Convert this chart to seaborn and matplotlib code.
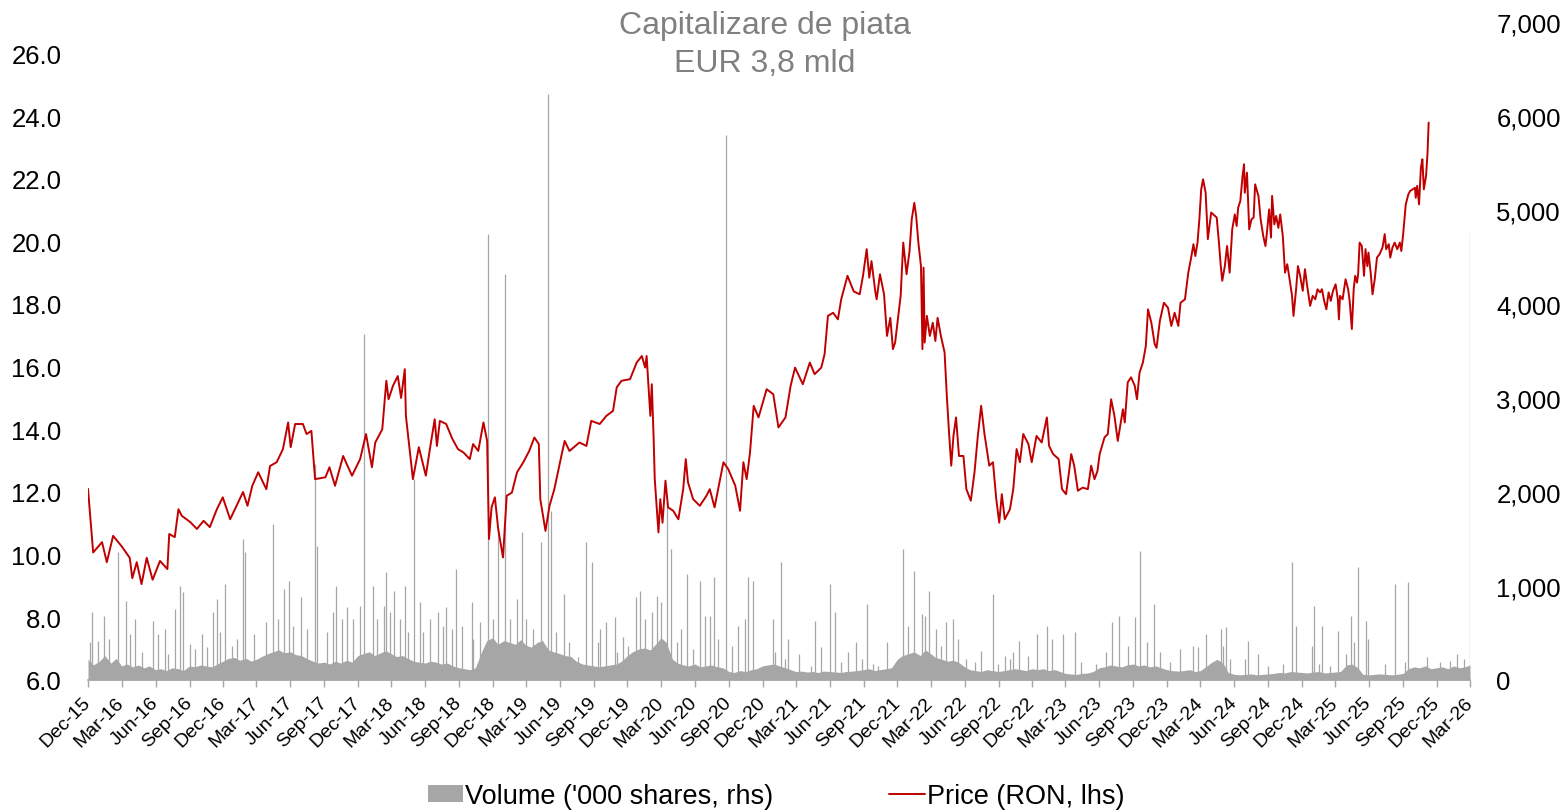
import numpy as np
import pandas as pd
import matplotlib
matplotlib.use("Agg")
import matplotlib.pyplot as plt
import matplotlib.font_manager as fm
from matplotlib.patches import Patch
from matplotlib.lines import Line2D
from matplotlib.ticker import FuncFormatter
import seaborn as sns

# price (RON, left axis)
price_dates = [
    "2015-12-01", "2015-12-10", "2015-12-15", "2016-01-08", "2016-01-21", "2016-02-07", "2016-03-01", "2016-03-23",
    "2016-03-30", "2016-04-11", "2016-04-24", "2016-05-08", "2016-05-24", "2016-06-13", "2016-07-03", "2016-07-08",
    "2016-07-23", "2016-08-02", "2016-08-11", "2016-09-03", "2016-09-21", "2016-10-09", "2016-10-26", "2016-11-14",
    "2016-11-30", "2016-12-20",
    "2017-01-08", "2017-01-24", "2017-02-05", "2017-02-18", "2017-03-06", "2017-03-28", "2017-04-07", "2017-04-25",
    "2017-05-12", "2017-05-26", "2017-06-02", "2017-06-14", "2017-07-05", "2017-07-15", "2017-07-28", "2017-08-07",
    "2017-09-04", "2017-09-15", "2017-09-30", "2017-10-22", "2017-11-15", "2017-12-07", "2017-12-23",
    "2018-01-08", "2018-01-17", "2018-02-05", "2018-02-16", "2018-02-22", "2018-03-06", "2018-03-19", "2018-03-28",
    "2018-04-07", "2018-04-10", "2018-04-20", "2018-04-29", "2018-05-15", "2018-06-03", "2018-06-14", "2018-06-27",
    "2018-07-03", "2018-07-11", "2018-07-28", "2018-08-14", "2018-08-29", "2018-09-13", "2018-09-30", "2018-10-09",
    "2018-10-23", "2018-11-06", "2018-11-16", "2018-11-21", "2018-11-28", "2018-12-07", "2018-12-16", "2018-12-29",
    "2019-01-08", "2019-01-22", "2019-02-05", "2019-02-22", "2019-03-10", "2019-03-24", "2019-04-05", "2019-04-09",
    "2019-04-23", "2019-05-04", "2019-05-17", "2019-06-05", "2019-06-14", "2019-06-27", "2019-07-24", "2019-08-12",
    "2019-08-25", "2019-09-17", "2019-10-05", "2019-10-23", "2019-11-02", "2019-11-15", "2019-12-08", "2019-12-26",
    "2020-01-09", "2020-01-18", "2020-01-22", "2020-02-01", "2020-02-05", "2020-02-10", "2020-02-13", "2020-02-23",
    "2020-02-28", "2020-03-05", "2020-03-13", "2020-03-20", "2020-04-03", "2020-04-17", "2020-04-30", "2020-05-07",
    "2020-05-13", "2020-05-27", "2020-06-14", "2020-07-02", "2020-07-11", "2020-07-24", "2020-08-17", "2020-08-30",
    "2020-09-18", "2020-10-01", "2020-10-10", "2020-10-19", "2020-10-28", "2020-11-07", "2020-11-20", "2020-12-12",
    "2020-12-30",
    "2021-01-13", "2021-02-01", "2021-02-15", "2021-02-27", "2021-03-20", "2021-04-08", "2021-04-21", "2021-05-09",
    "2021-05-18", "2021-05-27", "2021-06-10", "2021-06-23", "2021-07-02", "2021-07-19", "2021-08-05", "2021-08-21",
    "2021-08-30", "2021-09-09", "2021-09-16", "2021-09-22", "2021-10-02", "2021-10-06", "2021-10-15", "2021-10-26",
    "2021-11-03", "2021-11-12", "2021-11-19", "2021-11-25", "2021-12-04", "2021-12-10", "2021-12-17", "2021-12-26",
    "2022-01-03", "2022-01-09", "2022-01-16", "2022-01-21", "2022-01-27", "2022-02-03", "2022-02-07", "2022-02-10",
    "2022-02-13", "2022-02-19", "2022-02-27", "2022-03-07", "2022-03-14", "2022-03-20", "2022-03-29", "2022-04-08",
    "2022-04-14", "2022-04-20", "2022-04-26", "2022-05-02", "2022-05-09", "2022-05-17", "2022-05-29", "2022-06-06",
    "2022-06-18", "2022-06-28", "2022-07-07", "2022-07-16", "2022-07-25", "2022-08-07", "2022-08-17", "2022-08-26",
    "2022-09-03", "2022-09-10", "2022-09-18", "2022-10-02", "2022-10-11", "2022-10-20", "2022-10-29", "2022-11-07",
    "2022-11-21", "2022-11-30", "2022-12-13", "2022-12-27",
    "2023-01-10", "2023-01-16", "2023-01-27", "2023-02-11", "2023-02-20", "2023-03-03", "2023-03-12", "2023-03-17",
    "2023-03-25", "2023-04-04", "2023-04-17", "2023-05-01", "2023-05-10", "2023-05-19", "2023-05-27", "2023-06-02",
    "2023-06-15", "2023-06-24", "2023-07-03", "2023-07-12", "2023-07-21", "2023-08-04", "2023-08-09", "2023-08-17",
    "2023-08-26", "2023-09-05", "2023-09-11", "2023-09-18", "2023-09-27", "2023-10-05", "2023-10-11", "2023-10-20",
    "2023-10-29", "2023-11-03", "2023-11-12", "2023-11-23", "2023-12-04", "2023-12-13", "2023-12-22",
    "2024-01-01", "2024-01-07", "2024-01-19", "2024-01-28", "2024-02-04", "2024-02-11", "2024-02-16", "2024-02-22",
    "2024-02-27", "2024-03-03", "2024-03-08", "2024-03-15", "2024-03-21", "2024-03-30", "2024-04-14", "2024-04-20",
    "2024-04-25", "2024-04-29", "2024-05-06", "2024-05-12", "2024-05-19", "2024-05-26", "2024-06-02", "2024-06-07",
    "2024-06-11", "2024-06-17", "2024-06-23", "2024-06-27", "2024-06-29", "2024-07-05", "2024-07-11", "2024-07-17",
    "2024-07-23", "2024-07-27", "2024-08-05", "2024-08-11", "2024-08-18", "2024-08-24", "2024-08-28", "2024-09-03",
    "2024-09-08", "2024-09-11", "2024-09-17", "2024-09-22", "2024-09-28", "2024-10-03", "2024-10-10", "2024-10-16",
    "2024-10-22", "2024-10-27", "2024-11-04", "2024-11-08", "2024-11-15", "2024-11-20", "2024-11-26", "2024-12-03",
    "2024-12-09", "2024-12-15", "2024-12-23", "2024-12-30",
    "2025-01-06", "2025-01-12", "2025-01-19", "2025-01-24", "2025-01-30", "2025-02-05", "2025-02-11", "2025-02-17",
    "2025-02-23", "2025-03-02", "2025-03-08", "2025-03-11", "2025-03-14", "2025-03-21", "2025-03-29", "2025-04-05",
    "2025-04-09", "2025-04-15", "2025-04-20", "2025-04-24", "2025-04-29", "2025-05-02", "2025-05-06", "2025-05-12",
    "2025-05-18", "2025-05-22", "2025-05-27", "2025-05-30", "2025-06-05", "2025-06-10", "2025-06-16", "2025-06-22",
    "2025-06-29", "2025-07-07", "2025-07-13", "2025-07-17", "2025-07-24", "2025-07-28", "2025-08-03", "2025-08-09",
    "2025-08-16", "2025-08-23", "2025-08-27", "2025-09-01", "2025-09-08", "2025-09-15", "2025-09-20", "2025-09-27",
    "2025-10-03", "2025-10-05", "2025-10-09", "2025-10-14", "2025-10-19", "2025-10-23", "2025-10-27", "2025-11-02",
    "2025-11-06", "2025-11-09",
]
price_vals = [
    12.1, 10.8, 10.07, 10.4, 9.76, 10.6, 10.27, 9.9, 9.25, 9.76, 9.06, 9.9, 9.2, 9.8, 9.54, 10.66,
    10.56, 11.45, 11.24, 11.04, 10.82, 11.08, 10.88, 11.45, 11.83, 11.13,
    11.6, 12.0, 11.56, 12.2, 12.63, 12.09, 12.83, 12.95, 13.37, 14.22, 13.43, 14.17, 14.17, 13.85, 13.95, 12.41,
    12.47, 12.79, 12.2, 13.15, 12.52, 13.05, 13.85,
    12.79, 13.58, 14.0, 15.55, 14.96, 15.39, 15.7, 15.0, 15.92, 14.43, 13.37, 12.41, 13.43, 12.52, 13.37, 14.32,
    13.47, 14.27, 14.17, 13.69, 13.37, 13.26, 13.05, 13.53, 13.31, 14.22, 13.63, 10.5, 11.51, 11.83, 10.82, 9.91,
    11.88, 11.98, 12.63, 12.95, 13.31, 13.74, 13.53, 11.77, 10.76, 11.56, 12.09, 13.15, 13.63, 13.31, 13.58, 13.47,
    14.27, 14.17, 14.43, 14.59, 15.34, 15.55, 15.6, 16.13,
    16.34, 15.97, 16.34, 14.43, 15.44, 13.69, 12.41, 10.71, 11.77, 11.02, 12.36, 11.51, 11.4, 11.13, 12.09, 13.05,
    12.31, 11.77, 11.56, 11.88, 12.09, 11.51, 12.95, 12.73, 12.2, 11.4, 12.95, 12.41, 13.26, 14.75, 14.38, 15.28,
    15.12,
    14.06, 14.38, 15.39, 15.97, 15.44, 16.13, 15.76, 15.97, 16.4, 17.62, 17.72, 17.51, 18.15, 18.9, 18.4, 18.31,
    18.9, 19.75, 18.84, 19.37, 18.42, 18.15, 18.95, 18.31, 16.98, 17.56, 16.56, 16.77, 17.67, 18.26, 19.96, 18.95,
    19.69, 20.7, 21.23, 20.81, 19.96, 19.21, 16.56, 19.16, 16.77, 17.62, 16.98, 17.4, 16.82, 17.56, 16.98, 16.45,
    15.07, 13.9, 12.84, 13.79, 14.38, 13.15, 13.15, 12.09, 11.72, 12.63, 13.79, 14.75, 13.85, 12.84, 12.95, 11.77,
    11.02, 11.93, 11.13, 11.45, 12.09, 13.37, 12.95, 13.85, 13.53, 12.95, 13.79, 13.58,
    14.38, 13.47, 13.21, 13.05, 12.09, 11.93, 12.73, 13.21, 12.84, 12.04, 12.14, 12.09, 12.84, 12.41, 12.67, 13.21,
    13.74, 13.85, 14.96, 14.43, 13.63, 14.64, 14.22, 15.5, 15.66, 15.39, 14.96, 15.81, 16.13, 16.66, 17.83, 17.4,
    16.72, 16.6, 17.46, 18.04, 17.88, 17.3, 17.72,
    17.3, 18.04, 18.15, 19.0, 19.43, 19.91, 19.53, 19.96, 20.7, 21.66, 21.98, 21.55, 20.07, 20.92, 20.76, 19.96,
    19.21, 18.74, 19.21, 19.85, 19.0, 20.38, 20.86, 20.49, 21.07, 21.29, 22.09, 22.46, 21.55, 22.19, 20.38, 20.7,
    20.76, 21.82, 21.45, 20.7, 20.17, 19.85, 20.28, 21.02, 20.12, 21.45, 20.54, 20.81, 20.43, 20.86, 20.17, 19.0,
    19.27, 18.9, 18.26, 17.62, 18.47, 19.21, 18.9, 18.42, 19.11, 18.58, 17.94, 18.26,
    18.15, 18.47, 18.37, 18.47, 18.1, 17.83, 18.37, 18.1, 18.42, 18.63, 18.15, 17.51, 18.26, 18.15, 18.79, 18.47,
    18.1, 17.2, 18.47, 18.9, 18.68, 18.95, 19.96, 19.85, 18.9, 19.75, 19.21, 19.64, 19.0, 18.31, 18.79, 19.48,
    19.59, 19.8, 20.23, 19.75, 19.91, 19.48, 19.8, 19.96, 19.75, 19.96, 19.69, 20.23, 21.18, 21.5, 21.61, 21.66,
    21.71, 21.39, 21.77, 21.18, 22.35, 22.62, 21.66, 22.09, 22.83, 23.79,
]

# volume ('000 shares, right axis): base level on the 1st and 15th of each month, Dec-15 .. Mar-26
vol_base = [
    220, 160,
    200, 260, 180, 230, 150, 170, 140, 160, 130, 150, 110, 120, 100, 130, 120, 100, 150, 140, 160, 150, 140, 170, 200, 230,
    240, 210, 230, 200, 220, 250, 280, 300, 320, 290, 300, 270, 260, 230, 200, 180, 190, 170, 200, 180, 210, 190, 260, 280,
    300, 260, 290, 310, 280, 250, 260, 230, 200, 190, 180, 200, 190, 170, 180, 150, 130, 120, 110, 130, 300, 420, 450, 380,
    420, 400, 380, 430, 370, 350, 400, 420, 320, 300, 280, 260, 250, 200, 170, 160, 150, 140, 150, 160, 170, 200, 260, 300,
    330, 340, 320, 380, 450, 400, 220, 180, 160, 150, 170, 140, 150, 160, 140, 130, 90, 80, 100, 90, 110, 120, 150, 160,
    170, 150, 130, 110, 90, 95, 85, 90, 80, 95, 90, 85, 80, 90, 95, 100, 110, 120, 100, 110, 120, 130, 220, 260,
    280, 300, 260, 320, 280, 240, 220, 200, 210, 190, 140, 110, 100, 90, 110, 100, 90, 100, 110, 120, 110, 100, 120, 110,
    120, 100, 110, 90, 70, 65, 60, 70, 75, 90, 130, 140, 160, 150, 140, 160, 170, 150, 160, 140, 150, 130, 110, 100,
    95, 100, 110, 90, 100, 140, 190, 220, 180, 80, 60, 55, 60, 65, 55, 60, 65, 70, 80, 75, 90, 85, 80, 75,
    85, 90, 75, 80, 85, 90, 160, 170, 130, 60, 55, 60, 65, 60, 55, 60, 70, 120, 140, 130, 150, 120, 130, 140,
    120, 150, 130, 140,
    160,
]

# single-day volume spikes (tall ones)
spike_dates = [
    "2015-12-13", "2016-01-12", "2016-02-19", "2016-03-14", "2016-04-06", "2016-05-25", "2016-06-08", "2016-07-23",
    "2016-08-06", "2016-08-15", "2016-10-04", "2016-11-03", "2016-11-14", "2016-12-06", "2017-01-24", "2017-01-30",
    "2017-04-15", "2017-05-14", "2017-05-28", "2017-07-01", "2017-08-07", "2017-08-11", "2017-10-03", "2017-11-02",
    "2017-12-07", "2017-12-18", "2018-01-11", "2018-02-16", "2018-03-10", "2018-04-07", "2018-05-02", "2018-05-17",
    "2018-07-06", "2018-07-28", "2018-08-25", "2018-10-05", "2018-11-19", "2018-12-16", "2019-01-04", "2019-02-05",
    "2019-02-18", "2019-04-12", "2019-04-30", "2019-05-08", "2019-06-12", "2019-08-12", "2019-08-28", "2019-09-17",
    "2019-10-03", "2019-10-28", "2019-11-19", "2019-12-23", "2020-01-04", "2020-02-19", "2020-03-02", "2020-03-18",
    "2020-03-29", "2020-05-11", "2020-06-14", "2020-06-27", "2020-07-23", "2020-08-23", "2020-09-25", "2020-10-23",
    "2020-11-06", "2020-12-30", "2021-01-20", "2021-02-09", "2021-04-21", "2021-05-09", "2021-06-01", "2021-06-15",
    "2021-08-12", "2021-09-11", "2021-11-02", "2021-12-17", "2022-01-14", "2022-02-06", "2022-02-24", "2022-03-30",
    "2022-04-13", "2022-05-01", "2022-07-16", "2022-08-17", "2022-09-18", "2022-10-27", "2022-12-13", "2023-01-11",
    "2023-02-22", "2023-03-27", "2023-07-06", "2023-07-23", "2023-09-07", "2023-09-18", "2023-10-27", "2024-03-15",
    "2024-04-25", "2024-05-08", "2024-07-08", "2024-11-03", "2024-11-15", "2025-01-03", "2025-01-25", "2025-03-08",
    "2025-04-13", "2025-05-03", "2025-05-22", "2025-08-09", "2025-09-14", "2026-01-24", "2026-02-28",
]
spike_vals = [
    720, 684, 1358, 844, 649, 631, 489, 755,
    1004, 933, 489, 720, 862, 1021, 1500, 1358,
    1660, 968, 1057, 880, 2300, 1429, 1004, 773,
    791, 3680, 1004, 1146, 951, 1004, 2140, 826,
    720, 773, 1181, 826, 4740, 1606, 4320, 862,
    1570, 1465, 6230, 1800, 915, 1465, 1252, 542,
    613, 666, 453, 880, 951, 897, 826, 1900,
    1394, 1128, 1057, 684, 1092, 5800, 578, 1092,
    1057, 649, 1252, 436, 631, 347, 1021, 720,
    400, 808, 400, 1394, 1164, 702, 951, 365,
    613, 649, 311, 915, 259, 419, 489, 578,
    489, 507, 613, 684, 666, 1376, 808, 489,
    542, 560, 419, 1252, 578, 791, 578, 525,
    684, 1199, 631, 1021, 1039, 276, 4770,
]

# smaller day-to-day volume spikes
small_dates = [
    "2015-12-06", "2015-12-29", "2016-01-28", "2016-03-23", "2016-04-24", "2016-06-26", "2016-07-05", "2016-09-03",
    "2016-09-16", "2016-10-18", "2016-11-23", "2016-12-24", "2017-01-08", "2017-02-22", "2017-03-28", "2017-04-29",
    "2017-06-09", "2017-07-15", "2017-09-08", "2017-09-25", "2017-10-18", "2017-11-19", "2018-01-21", "2018-02-09",
    "2018-02-26", "2018-03-24", "2018-04-16", "2018-05-26", "2018-06-14", "2018-07-19", "2018-08-12", "2018-09-08",
    "2018-10-09", "2018-10-27", "2018-12-03", "2019-01-17", "2019-03-02", "2019-03-20", "2019-05-22", "2019-06-27",
    "2019-07-20", "2019-09-13", "2019-11-02", "2019-12-03", "2020-01-18", "2020-02-05", "2020-04-12", "2020-04-25",
    "2020-05-26", "2020-07-11", "2020-08-03", "2020-09-09", "2020-10-14", "2021-01-04", "2021-02-01", "2021-03-11",
    "2021-04-12", "2021-07-02", "2021-07-20", "2021-08-26", "2021-09-27", "2021-10-10", "2021-12-30", "2022-02-15",
    "2022-03-16", "2022-05-14", "2022-06-06", "2022-06-28", "2022-08-30", "2022-10-02", "2022-10-11", "2022-11-21",
    "2023-01-23", "2023-04-13", "2023-05-23", "2023-06-20", "2023-08-17", "2023-10-07", "2023-11-12", "2023-12-09",
    "2024-01-05", "2024-02-11", "2024-02-24", "2024-05-01", "2024-05-19", "2024-06-29", "2024-08-05", "2024-09-01",
    "2024-10-11", "2024-12-27", "2025-01-15", "2025-02-16", "2025-03-30", "2025-04-22", "2025-05-28", "2025-07-13",
    "2025-09-06", "2025-11-04", "2025-12-09", "2026-01-06", "2026-02-12",
]
small_vals = [
    400, 418, 436, 489, 294, 542, 277, 383,
    330, 347, 507, 365, 436, 489, 613, 649,
    578, 542, 507, 720, 649, 649, 649, 791,
    720, 649, 507, 507, 649, 578, 542, 578,
    436, 613, 649, 649, 649, 542, 507, 400,
    241, 400, 294, 365, 649, 720, 400, 542,
    330, 684, 436, 365, 649, 294, 223, 277,
    152, 188, 294, 223, 170, 152, 578, 684,
    542, 436, 223, 188, 170, 223, 294, 259,
    436, 188, 170, 294, 365, 400, 294, 188,
    330, 365, 347, 365, 223, 223, 277, 152,
    170, 365, 170, 152, 277, 400, 436, 170,
    188, 241, 188, 205, 223,
]

title_lines = ["Capitalizare de piata", "EUR 3,8 mld"]
legend_labels = ["Volume ('000 shares, rhs)", "Price (RON, lhs)"]

RED = "#C00000"
GREY = "#A6A6A6"
TITLE_GREY = "#808080"

price_df = pd.DataFrame({"date": pd.to_datetime(price_dates), "price": price_vals})
vol_df = pd.DataFrame({"date": pd.date_range("2015-12-01", periods=len(vol_base), freq="SMS"),
                       "volume": vol_base})
spike_df = pd.DataFrame({"date": pd.to_datetime(spike_dates + small_dates), "volume": spike_vals + small_vals})

sns.set_theme(style="white")
plt.rcParams["font.family"] = ["Liberation Sans", "DejaVu Sans"]

fig = plt.figure(figsize=(15.66, 8.12), dpi=100)
ax = fig.add_axes([88 / 1566, 1 - 681 / 812, (1470 - 88) / 1566, (681 - 23) / 812])
ax2 = ax.twinx()

# volume on the right axis, drawn behind the price line
ax2.fill_between(vol_df["date"], 0, vol_df["volume"], color=GREY, linewidth=0)
ax2.vlines(spike_df["date"], 0, spike_df["volume"], color=GREY, linewidth=0.9)
ax2.set_ylim(0, 7000)
ax2.set_yticks(np.arange(0, 7001, 1000))
ax2.yaxis.set_major_formatter(FuncFormatter(lambda v, p: f"{v:,.0f}"))

sns.lineplot(data=price_df, x="date", y="price", ax=ax, color=RED, linewidth=1.4, legend=False)
ax.set_zorder(ax2.get_zorder() + 1)
ax.patch.set_visible(False)
ax.set_ylim(6, 27)
ax.set_yticks(np.arange(6, 27, 2))
ax.yaxis.set_major_formatter(FuncFormatter(lambda v, p: f"{v:.1f}"))
ax.set_xlabel("")
ax.set_ylabel("")

xt = pd.date_range("2015-12-01", "2026-03-01", freq="3MS")
ax.set_xlim(xt[0], xt[-1])
ax.set_xticks(xt)
ax.set_xticklabels([d.strftime("%b-%y") for d in xt], rotation=45, ha="right",
                   va="center", rotation_mode="anchor", fontsize=14, color="black")

for a in (ax, ax2):
    for s in ("top", "left", "right"):
        a.spines[s].set_visible(False)
ax2.spines["bottom"].set_visible(False)
ax.spines["bottom"].set_color(GREY)
ax.spines["bottom"].set_linewidth(1.2)

ax.tick_params(axis="x", direction="out", length=5, width=1, color=GREY, pad=9, bottom=True)
ax.tick_params(axis="y", length=0, pad=19, labelsize=18.5, labelcolor="black")
ax2.tick_params(axis="y", length=0, pad=19, labelsize=18.5, labelcolor="black")
for lab in ax2.get_yticklabels():
    lab.set_ha("left")

fig.text(765 / 1566, 1 - 26 / 812, title_lines[0], ha="center", va="center", fontsize=23, color=TITLE_GREY)
fig.text(765 / 1566, 1 - 64 / 812, title_lines[1], ha="center", va="center", fontsize=23, color=TITLE_GREY)

names = {f.name for f in fm.fontManager.ttflist}
if "Liberation Sans Narrow" in names:
    leg_font = fm.FontProperties(family="Liberation Sans Narrow", size=23.5)
else:
    leg_font = fm.FontProperties(family="Liberation Sans", size=19.5)

handles = [Patch(facecolor=GREY, edgecolor="none"), Line2D([0], [0], color=RED, linewidth=1.4)]
leg = fig.legend(handles, legend_labels, loc="center", bbox_to_anchor=(0.4955, 1 - 797 / 812), ncol=2,
                 frameon=False, prop=leg_font, handlelength=1.3, handleheight=0.55, handletextpad=0.08,
                 columnspacing=4.3, borderpad=0)
for t in leg.get_texts():
    t.set_color("black")

fig.savefig("out.png", dpi=100)
